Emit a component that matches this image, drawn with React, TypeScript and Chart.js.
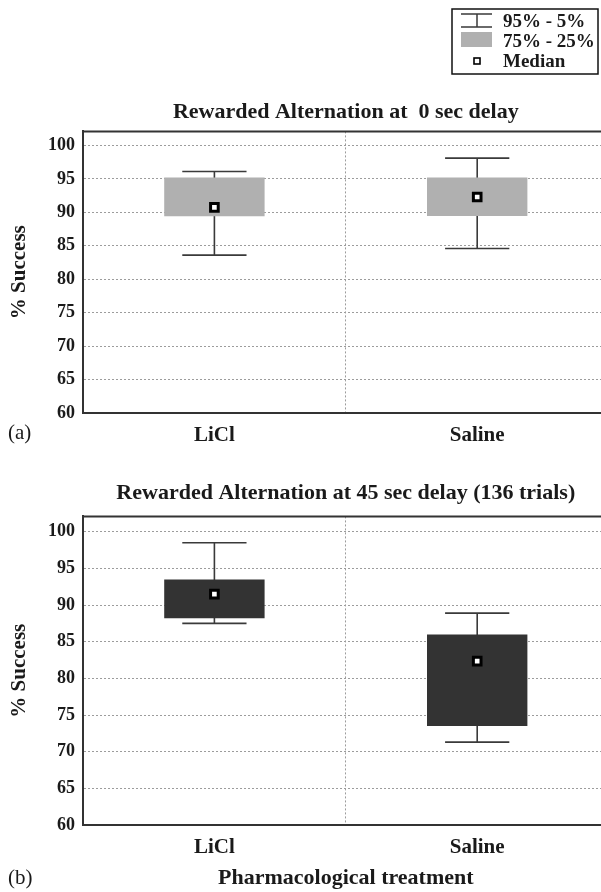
import React, { useEffect, useRef } from "react";
import { Chart, registerables } from "chart.js";

Chart.register(...registerables);

const categories = ["LiCl", "Saline"];

// Panel (a): 0 sec delay
const p5A = [83.6, 84.6];
const q25A = [89.4, 89.45];
const medianA = [90.75, 92.3];
const q75A = [95.2, 95.2];
const p95A = [96.1, 98.1];

// Panel (b): 45 sec delay
const p5B = [87.5, 71.3];
const q25B = [88.2, 73.5];
const medianB = [91.5, 82.35];
const q75B = [93.5, 86.0];
const p95B = [98.5, 88.9];

const yMin = 60;
const yMax = 102.1;
const yStep = 5;

const titleA = "Rewarded Alternation at  0 sec delay";
const titleB = "Rewarded Alternation at 45 sec delay (136 trials)";
const yTitle = "% Success";
const xTitleB = "Pharmacological treatment";
const legendLabels = ["95% - 5%", "75% - 25%", "Median"];

const SERIF = "'Liberation Serif', 'DejaVu Serif', 'Times New Roman', serif";
const INK = "#1a1a1a";
const AXIS = "#333333";
const GRID = "#9c9c9c";
const CANVAS_W = 617;

function whiskerPlugin(lo: number[], hi: number[]) {
  return {
    id: "whiskers",
    beforeDatasetsDraw(chart: any) {
      const { ctx } = chart;
      const y = chart.scales.y;
      const meta = chart.getDatasetMeta(0);
      ctx.save();
      ctx.strokeStyle = "#3a3a3a";
      ctx.lineWidth = 1.6;
      lo.forEach((v, i) => {
        const bar = meta.data[i];
        if (!bar) return;
        const cx = bar.x;
        const half = (bar.width * 0.64) / 2;
        const yl = y.getPixelForValue(v);
        const yh = y.getPixelForValue(hi[i]);
        ctx.beginPath();
        ctx.moveTo(cx, yl);
        ctx.lineTo(cx, yh);
        ctx.moveTo(cx - half, yl);
        ctx.lineTo(cx + half, yl);
        ctx.moveTo(cx - half, yh);
        ctx.lineTo(cx + half, yh);
        ctx.stroke();
      });
      ctx.restore();
    },
  };
}

const framePlugin = {
  id: "frameTop",
  afterDraw(chart: any) {
    const { ctx, chartArea } = chart;
    ctx.save();
    ctx.strokeStyle = AXIS;
    ctx.lineWidth = 2;
    ctx.beginPath();
    ctx.moveTo(chartArea.left, chartArea.top);
    ctx.lineTo(chartArea.right, chartArea.top);
    ctx.stroke();
    ctx.restore();
  },
};

function panelLabel(text: string, yPos: number) {
  return {
    id: "panelLabel",
    afterDraw(chart: any) {
      const { ctx } = chart;
      ctx.save();
      ctx.fillStyle = INK;
      ctx.font = `21px ${SERIF}`;
      ctx.textAlign = "left";
      ctx.textBaseline = "middle";
      ctx.fillText(text, 8, yPos);
      ctx.restore();
    },
  };
}

const legendPlugin = {
  id: "boxLegend",
  afterDraw(chart: any) {
    const { ctx } = chart;
    ctx.save();
    ctx.fillStyle = "#ffffff";
    ctx.fillRect(452, 9, 146, 65);
    ctx.strokeStyle = "#111";
    ctx.lineWidth = 1.5;
    ctx.strokeRect(452, 9, 146, 65);
    // whisker symbol
    ctx.strokeStyle = "#3a3a3a";
    ctx.lineWidth = 1.5;
    ctx.beginPath();
    ctx.moveTo(461, 14);
    ctx.lineTo(492, 14);
    ctx.moveTo(477, 14);
    ctx.lineTo(477, 27);
    ctx.moveTo(461, 27);
    ctx.lineTo(492, 27);
    ctx.stroke();
    // box symbol
    ctx.fillStyle = "#b0b0b0";
    ctx.fillRect(461, 32, 31, 15);
    // median symbol
    ctx.fillStyle = "#fff";
    ctx.fillRect(474, 58, 6, 6);
    ctx.strokeStyle = "#000";
    ctx.lineWidth = 1.6;
    ctx.strokeRect(474, 58, 6, 6);
    // text
    ctx.fillStyle = INK;
    ctx.font = `bold 19px ${SERIF}`;
    ctx.textAlign = "left";
    ctx.textBaseline = "middle";
    ctx.fillText(legendLabels[0], 503, 22);
    ctx.fillText(legendLabels[1], 503, 42);
    ctx.fillText(legendLabels[2], 503, 62);
    ctx.restore();
  },
};

function buildConfig(opts: {
  q25: number[];
  q75: number[];
  median: number[];
  boxColor: string;
  title: string;
  titlePadTop: number;
  titlePadBottom: number;
  layoutTop: number;
  xAxisHeight: number;
  xTitle?: string;
}) {
  return {
    type: "bar",
    data: {
      labels: categories,
      datasets: [
        {
          type: "bar",
          data: opts.q25.map((v, i) => [v, opts.q75[i]]),
          backgroundColor: opts.boxColor,
          borderWidth: 0,
          barPercentage: 0.382,
          categoryPercentage: 1,
          order: 1,
        },
        {
          type: "line",
          data: opts.median,
          showLine: false,
          pointStyle: "rect",
          pointRadius: 5.4,
          pointBackgroundColor: "#ffffff",
          pointBorderColor: "#000000",
          pointBorderWidth: 3,
          order: 0,
        },
      ],
    },
    options: {
      animation: false,
      responsive: false,
      events: [],
      layout: { padding: { top: opts.layoutTop, left: 0, right: 0, bottom: 0 } },
      plugins: {
        legend: { display: false },
        tooltip: { enabled: false },
        title: {
          display: true,
          text: opts.title,
          fullSize: false,
          color: INK,
          font: { family: SERIF, size: 22, weight: "bold" },
          padding: { top: opts.titlePadTop, bottom: opts.titlePadBottom },
        },
      },
      scales: {
        x: {
          type: "category",
          offset: true,
          grid: {
            display: true,
            offset: true,
            color: GRID,
            lineWidth: 1,
            drawTicks: false,
          },
          border: { display: true, color: AXIS, width: 2, dash: [2, 2] },
          ticks: {
            color: INK,
            padding: 10,
            font: { family: SERIF, size: 21, weight: "bold" },
          },
          title: {
            display: !!opts.xTitle,
            text: opts.xTitle || "",
            color: INK,
            font: { family: SERIF, size: 22, weight: "bold" },
            padding: { top: 0, bottom: 0 },
          },
          afterFit(scale: any) {
            scale.height = opts.xAxisHeight;
          },
        },
        y: {
          type: "linear",
          min: yMin,
          max: yMax,
          grid: {
            color: GRID,
            lineWidth: 1,
            drawTicks: false,
          },
          border: { display: true, color: AXIS, width: 2, dash: [2, 2] },
          ticks: {
            stepSize: yStep,
            includeBounds: false,
            color: INK,
            padding: 8,
            font: { family: SERIF, size: 18, weight: "bold" },
          },
          title: {
            display: true,
            text: yTitle,
            color: INK,
            font: { family: SERIF, size: 21, weight: "bold" },
            padding: { top: 7, bottom: 0 },
          },
          afterFit(scale: any) {
            scale.width = 83;
          },
        },
      },
    },
  } as any;
}

export default function App() {
  const refA = useRef<HTMLCanvasElement | null>(null);
  const refB = useRef<HTMLCanvasElement | null>(null);

  useEffect(() => {
    const cfgA = buildConfig({
      q25: q25A,
      q75: q75A,
      median: medianA,
      boxColor: "#b0b0b0",
      title: titleA,
      titlePadTop: 1,
      titlePadBottom: 6,
      layoutTop: 98,
      xAxisHeight: 47,
    });
    cfgA.plugins = [whiskerPlugin(p5A, p95A), framePlugin, legendPlugin, panelLabel("(a)", 433)];
    const cfgB = buildConfig({
      q25: q25B,
      q75: q75B,
      median: medianB,
      boxColor: "#333333",
      title: titleB,
      titlePadTop: 1,
      titlePadBottom: 10,
      layoutTop: 19,
      xAxisHeight: 67,
      xTitle: xTitleB,
    });
    cfgB.plugins = [whiskerPlugin(p5B, p95B), framePlugin, panelLabel("(b)", 418)];
    const a = new Chart(refA.current as HTMLCanvasElement, cfgA);
    const b = new Chart(refB.current as HTMLCanvasElement, cfgB);
    return () => {
      a.destroy();
      b.destroy();
    };
  }, []);

  return (
    <div
      style={{
        position: "absolute",
        left: 0,
        top: 0,
        width: 601,
        height: 892,
        overflow: "hidden",
        background: "#ffffff",
      }}
    >
      <canvas
        ref={refA}
        width={CANVAS_W}
        height={460}
        style={{ position: "absolute", left: 0, top: 0, width: CANVAS_W, height: 460 }}
      />
      <canvas
        ref={refB}
        width={CANVAS_W}
        height={432}
        style={{ position: "absolute", left: 0, top: 460, width: CANVAS_W, height: 432 }}
      />
    </div>
  );
}
